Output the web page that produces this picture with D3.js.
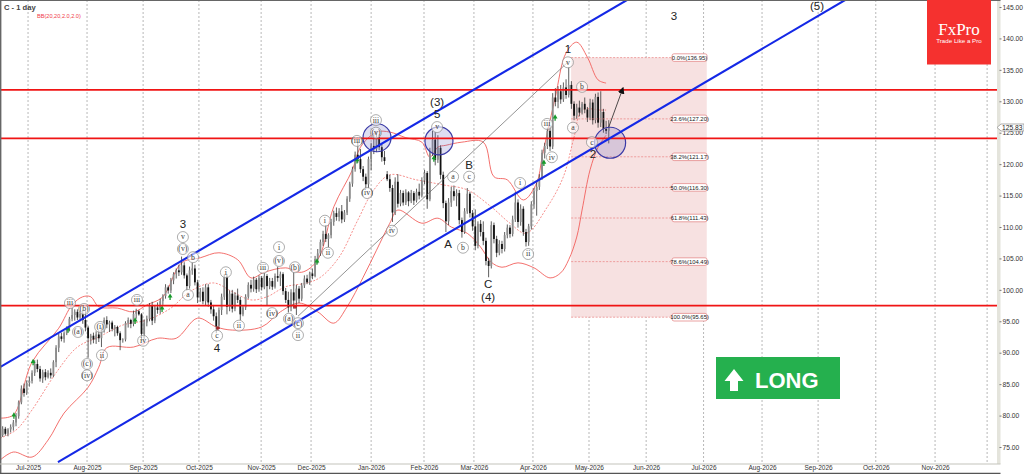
<!DOCTYPE html>
<html>
<head>
<meta charset="utf-8">
<script src="https://cdn.jsdelivr.net/npm/d3@7"></script>
<style>
  body { margin: 0; background: #fff; }
  svg { display: block; }
  text { font-family: "Liberation Sans", sans-serif; }
</style>
</head>
<body>
<div id="drawing_region"></div>
<script>
// daily candles
const opens = [
  76.6,76.9,77.9,77.1,77.8,78.2,78.9,79.9,82.1,84.3,
  83.6,85.2,85.5,86.8,88.2,87.4,85.9,86.9,86.1,86.8,
  86.4,88.5,90.8,92.6,92.2,93.1,93.9,95.4,96.0,96.5,
  95.6,96.2,95.2,94.0,92.3,92.7,92.1,92.9,92.3,93.7,
  95.2,94.5,94.8,93.8,94.1,93.1,92.0,92.1,94.7,95.2,
  94.6,96.2,96.6,96.1,93.0,94.8,95.4,97.5,95.1,97.2,
  96.8,98.2,99.0,100.4,99.9,101.5,102.5,103.1,102.8,103.9,
  102.3,100.6,103.1,103.4,101.2,98.8,99.7,98.2,100.4,98.0,
  96.9,95.8,94.3,96.8,98.9,102.1,97.3,99.4,97.0,99.1,
  98.4,96.1,97.2,98.9,100.8,100.2,101.6,100.1,101.9,100.4,
  102.2,100.6,101.4,100.5,102.2,101.9,102.5,99.8,98.4,97.2,
  99.6,98.3,100.2,98.6,100.7,101.8,101.2,102.6,102.2,104.9,
  105.8,107.6,108.9,108.1,108.7,110.8,112.2,111.6,112.5,111.2,
  112.3,114.5,116.9,119.2,121.5,120.8,119.2,118.0,116.8,120.8,
  122.9,122.4,124.3,122.7,121.1,118.4,117.6,116.2,112.3,117.2,
  113.7,115.4,113.9,115.5,114.1,115.4,114.2,115.6,115.0,117.4,
  118.6,114.4,121.9,123.9,120.7,122.6,118.3,113.8,110.9,113.9,
  115.7,114.9,115.4,111.1,109.2,112.5,115.3,112.2,110.1,107.0,
  110.5,109.2,107.8,104.6,103.8,110.3,108.1,105.9,107.3,106.5,
  108.7,109.9,108.9,111.2,113.9,110.8,112.9,109.2,107.6,110.1,
  113.6,115.7,116.4,117.9,121.8,122.9,125.3,122.8,130.6,129.9,
  131.6,130.3,132.2,131.0,132.6,129.6,127.7,129.0,128.2,129.6,
  128.7,127.4,129.8,127.0,130.7,126.6,128.3,125.6,125.3
];
const highs = [
  77.6,78.3,78.2,78.0,78.6,79.3,80.4,82.4,84.8,85.1,
  85.6,86.2,87.2,88.8,88.9,87.9,87.3,87.4,87.2,87.5,
  88.8,91.2,93.0,93.2,93.4,94.2,95.7,97.2,96.9,96.9,
  96.7,96.8,96.6,94.3,93.0,93.2,93.4,93.5,94.0,95.6,
  95.8,95.1,95.1,94.4,94.3,93.4,92.3,95.0,95.6,95.4,
  96.7,97.0,96.8,96.3,95.3,95.9,97.9,98.1,97.6,98.0,
  98.6,99.3,100.9,100.7,101.9,102.8,103.4,104.0,105.3,104.4,
  102.6,103.7,104.3,104.0,101.6,100.3,100.4,100.9,100.9,98.4,
  97.6,96.4,97.2,99.4,102.5,102.5,99.9,100.0,99.6,100.2,
  98.9,97.6,99.3,101.2,101.6,102.1,101.9,102.3,102.2,102.7,
  102.5,101.9,101.9,102.6,103.7,102.9,102.8,100.3,99.7,100.1,
  102.8,100.8,100.6,101.1,102.3,102.4,102.9,103.4,105.4,106.5,
  108.0,109.4,110.3,109.0,111.3,112.6,113.1,113.0,113.5,112.7,
  114.9,117.2,119.6,122.0,123.6,122.4,119.7,118.5,121.2,123.4,
  124.9,125.1,124.8,123.2,122.1,118.9,118.3,116.7,117.9,118.4,
  115.9,115.8,116.0,115.7,115.9,115.7,116.1,116.9,117.9,119.1,
  118.9,122.6,125.3,125.1,124.6,123.0,118.8,114.2,114.6,116.4,
  116.6,116.0,115.9,111.5,113.0,116.2,115.6,112.7,112.8,110.9,
  111.1,110.9,108.3,105.1,110.9,110.7,108.6,107.9,107.8,109.2,
  110.4,110.3,111.8,115.6,114.4,113.6,113.3,109.7,110.5,114.1,
  116.2,117.1,118.4,122.3,123.4,125.8,126.1,131.3,132.1,132.4,
  132.6,133.0,133.5,135.4,133.2,130.0,129.6,130.1,129.9,130.6,
  129.1,130.4,130.3,131.2,131.4,131.6,128.8,126.9,127.0
];
const lows = [
  76.2,76.6,76.8,76.7,77.3,77.6,78.3,79.5,81.8,83.0,
  83.3,84.6,85.1,86.3,86.9,85.4,85.2,85.6,85.9,85.9,
  86.1,87.7,90.1,91.8,91.6,92.8,93.4,95.0,95.1,95.2,
  95.0,94.6,93.4,89.2,91.3,91.5,91.4,91.7,90.9,93.2,
  93.9,93.3,93.4,92.6,92.7,90.4,91.6,91.8,94.0,93.9,
  94.2,95.4,95.9,91.8,92.2,94.2,95.0,94.4,94.7,96.2,
  96.2,97.6,98.6,99.4,99.5,100.9,101.8,102.2,102.4,101.8,
  99.9,100.2,102.4,100.7,97.9,98.1,97.7,97.5,97.3,96.2,
  95.1,93.1,93.8,96.0,98.4,96.1,96.6,96.4,96.6,97.9,
  95.2,95.8,96.8,98.6,99.6,99.7,99.5,99.7,99.9,100.1,
  97.5,100.1,100.0,100.2,101.3,100.6,99.2,97.9,96.4,96.6,
  97.0,96.0,97.9,98.2,100.3,100.9,100.8,101.7,102.0,104.2,
  105.4,107.0,107.6,106.8,108.2,110.2,111.0,110.9,110.6,110.8,
  111.9,114.0,116.4,118.8,120.2,118.6,117.3,116.1,116.2,119.0,
  121.6,121.9,122.2,120.4,119.9,117.3,115.6,110.8,111.9,113.1,
  113.3,113.4,113.5,113.3,113.8,113.5,113.9,114.4,114.7,116.8,
  112.9,114.1,121.3,119.8,120.2,117.6,113.0,109.2,110.3,113.2,
  114.2,113.3,110.4,108.3,108.9,112.1,111.5,109.4,106.3,106.6,
  108.5,107.1,103.9,102.0,103.4,107.4,105.2,105.5,105.8,106.1,
  108.2,108.3,108.5,110.8,109.9,110.2,108.6,106.9,107.0,109.6,
  112.9,111.8,115.9,117.5,120.9,122.4,122.1,122.4,129.2,128.9,
  129.6,129.9,130.4,130.6,128.8,127.0,127.2,127.6,127.9,128.1,
  126.7,127.0,126.3,126.5,125.8,125.9,125.0,124.8,123.3
];
const closes = [
  76.9,77.9,77.1,77.8,78.2,78.9,79.9,82.1,84.3,83.6,
  85.2,85.5,86.8,88.2,87.4,85.9,86.9,86.1,86.8,86.4,
  88.5,90.8,92.6,92.2,93.1,93.9,95.4,96.0,96.5,95.6,
  96.2,95.2,94.0,92.3,92.7,92.1,92.9,92.3,93.7,95.2,
  94.5,94.8,93.8,94.1,93.1,92.0,92.1,94.7,95.2,94.6,
  96.2,96.6,96.1,93.0,94.8,95.4,97.5,95.1,97.2,96.8,
  98.2,99.0,100.4,99.9,101.5,102.5,103.1,102.8,103.9,102.3,
  100.6,103.1,103.4,101.2,98.8,99.7,98.2,100.4,98.0,96.9,
  95.8,94.2,96.8,98.9,102.1,97.3,99.4,97.0,99.1,98.4,
  96.1,97.2,98.9,100.8,100.2,101.6,100.1,101.9,100.4,102.2,
  100.6,101.4,100.5,102.2,101.9,102.5,99.8,98.4,97.2,99.6,
  98.3,100.2,98.6,100.7,101.8,101.2,102.6,102.2,104.9,105.8,
  107.6,108.9,108.1,108.7,110.8,112.2,111.6,112.5,111.2,112.3,
  114.5,116.9,119.2,121.5,120.8,119.2,118.0,116.8,120.8,122.9,
  122.4,124.3,122.7,121.1,120.5,117.6,116.2,112.3,117.2,113.7,
  115.4,113.9,115.5,114.1,115.4,114.2,115.6,115.0,117.4,118.6,
  114.4,121.9,123.9,120.7,122.6,118.3,113.8,110.9,113.9,115.7,
  114.9,115.4,111.1,109.2,112.5,115.3,112.2,110.1,107.0,110.5,
  109.2,107.8,104.6,103.8,110.3,108.1,105.9,107.3,106.5,108.7,
  109.9,108.9,111.2,113.9,110.8,112.9,109.2,107.6,110.1,113.6,
  115.7,116.4,117.9,121.8,122.9,125.3,122.8,130.6,129.9,131.6,
  130.3,132.2,131.0,132.6,129.6,127.7,129.0,128.2,129.6,128.7,
  127.4,129.8,127.0,130.7,126.6,128.3,125.6,125.3,125.83
];

// bollinger bands, sampled where they bend
const upperBars = [0,5,12,22,27,31,34,37,44,50,55,61,68,75,82,89,94,99,107,113,119,125,132,135,141,146,152,158,161,164,167,173,181,185,190,196,201,203,205,208,212,216,220,224,227];
const upperBand = [79.6,80.1,88.5,93.9,97.6,98.9,98.9,97.3,97.1,96.5,97.6,98.9,104.3,105.1,105.9,104.8,101.9,102.8,103.5,102.8,104.8,113.2,119.1,122.7,125.1,125.1,124.2,123.5,121.1,122.7,123.0,123.5,123.5,118,117.5,114.3,117,121.1,125,130.7,137.7,139.4,137,133.4,132.9];
const middleBars = [0,6,12,21,29,37,46,55,64,71,80,87,94,100,107,115,120,127,134,140,146,156,166,175,184,191,197,205,211,215,218,225,227];
const middleBand = [76.4,77.7,80.9,86.8,90.9,92.5,94.4,95.2,97.1,99.7,101.1,99.7,98.4,98.9,100.5,101.1,102,105.2,111.1,115.9,118.3,117.5,116.7,115.9,113.2,110.6,109,113.2,118,124.3,128.6,128.6,128.6];
const lowerBars = [0,5,12,18,24,33,37,40,50,59,66,74,81,87,98,105,112,119,125,130,136,141,146,149,158,164,169,175,180,184,188,194,200,206,210,213,216,218,221,224,227];
const lowerBand = [72.9,74.2,73.4,76.1,80.4,84.5,87.7,90.8,90.9,92.3,92.3,95.5,94.1,93.6,94.1,96.5,97.9,96.5,94.7,97.3,102,106.3,110.6,112.7,110.6,111.4,110,109,106.8,104.4,103.6,104.3,103.5,101.9,102.7,104.8,108.4,112.7,119.1,122.7,124.6];

// axes
const monthBars = [10.5,32.6,53.6,74.5,97.8,116.5,139,158.8,177.5,199.6,220.6,242,263.5,285.4,306.4,328,350.2,369.7];
const monthLabels = ['Jul-2025','Aug-2025','Sep-2025','Oct-2025','Nov-2025','Dec-2025','Jan-2026','Feb-2026','Mar-2026','Apr-2026','May-2026','Jun-2026','Jul-2026','Aug-2026','Sep-2026','Oct-2026','Nov-2026','Dec-2026'];
const priceTicks = [145,140,135,130,125,120,115,110,105,100,95,90,85,80,75];
const lastPrice = 125.83;

// drawn objects
const levelPrices = [131.8, 124.1, 97.5];
const channelBars = [[0, 234.8], [21.7, 316.5]];
const channelPrices = [[87.7, 146.1], [72.6, 146.1]];
const trendBars = [111.6, 212.7];
const trendPrices = [95.8, 136.25];
const arrowBars = [228, 233.3];
const arrowPrices = [125.9, 132.1];
const zoneBars = [141.2, 164.4, 228.5];
const zonePrices = [124.2, 123.7, 123.4];
const fibBars = [213.9, 264.7];
const fibLabelBar = 251.7;
const fibRatios = ['0.0%','23.6%','38.2%','50.0%','61.8%','78.6%','100.0%'];
const fibPrices = [136.95,127.20,121.17,116.30,111.43,104.49,95.65];

const buyBars = [5.2,12.4,25.5,50.6,60.7,63.7,118.7,133.7,162.5,203.7,207.9];
const buyPrices = [79.9,88.4,93.6,95,96.9,98.8,104.4,120.5,120.8,120.1,127.3];
const stopBars = [81.6,110.5];
const stopPrices = [93.9,97.3];

const circledLabels = [
  ['iii',26.2,97.9],['(b)',31.5,96.96],['(a)',29.2,93.3],['(i)',37.5,94.1],['ii',38.2,89.6],
  ['(c)',32.6,88.2],['(iv)',32.6,86.4],['iii',51.3,98.4],['iv',53.6,91.9],['(v)',68.5,106.5],
  ['v',68.5,108.4],['b',72.3,105.2],['a',70.4,99.2],['c',81.3,92.7],['i',84.6,102.8],
  ['ii',89.5,94.3],['iii',98.5,103.5],['i',104.5,106.8],['(v)',104.5,104.6],['(iv)',101.9,96.3],
  ['(b)',110.5,103.6],['(a)',108.2,95.4],['(c)',111.6,94.7],['ii',111.6,92.8],['ii',122.8,105.9],
  ['i',121.7,111],['(iii)',133.7,123.7],['iii',140.8,127],['(v)',140.8,125],['(iv)',137.5,115.4],
  ['iv',146.8,109.4],['v',163.7,125.9],['a',169.7,118],['c',175.7,118],['b',173.4,106.7],
  ['i',194.8,117],['ii',197.8,105.7],['iii',204.9,126.4],['iv',206.7,121.1],['v',212.7,136.2],
  ['b',218,132.3],['a',214.6,125.8],['c',221.7,123.5]
];
const plainLabels = [
  ['3',68.5,110.5],['4',81.3,90.8],['(3)',163.7,129.9],['5',163.7,128],['A',167.8,107.3],
  ['B',175.7,119.9],['C',182.8,100.9],['(4)',182.8,98.9],['1',212.7,138.3],['2',222.1,121.6],
  ['3',252.4,143.6],['(5)',306,145.15]
];

var config = {
    parent: '#drawing_region',
    width: 1024,
    height: 474,
    plotRight: 997,
    plotBottom: 464
};

const svg = d3.select(config.parent).append('svg')
    .attr('width', config.width)
    .attr('height', config.height);

const xscale = d3.scaleLinear().domain([0, 373.4]).range([0, config.plotRight]);
const yscale = d3.scaleLinear().domain([145, 75]).range([7, 447]);

svg.append('clipPath').attr('id', 'plot_clip').append('rect')
    .attr('x', 0).attr('y', 0)
    .attr('width', config.plotRight).attr('height', config.plotBottom);

// month grid
svg.append('g').selectAll('line').data(monthBars).join('line')
    .attr('x1', d => xscale(d)).attr('x2', d => xscale(d))
    .attr('y1', 0).attr('y2', config.plotBottom)
    .attr('stroke', '#9a9a9a').attr('stroke-width', 0.7).attr('stroke-dasharray', '2,2');

const plot = svg.append('g').attr('clip-path', 'url(#plot_clip)');

// fibonacci box
plot.append('rect')
    .attr('x', xscale(fibBars[0])).attr('width', xscale(fibBars[1]) - xscale(fibBars[0]))
    .attr('y', yscale(fibPrices[0])).attr('height', yscale(fibPrices[6]) - yscale(fibPrices[0]))
    .attr('fill', '#f7e1e1');

// bands
const bandLine = (bars, values) => d3.line()
    .x((d, i) => xscale(bars[i]))
    .y(d => yscale(d))
    .curve(d3.curveCatmullRom)(values);

plot.append('path').attr('d', bandLine(upperBars, upperBand))
    .attr('fill', 'none').attr('stroke', '#f2605c').attr('stroke-width', 0.9);
plot.append('path').attr('d', bandLine(lowerBars, lowerBand))
    .attr('fill', 'none').attr('stroke', '#f2605c').attr('stroke-width', 0.9);
plot.append('path').attr('d', bandLine(middleBars, middleBand))
    .attr('fill', 'none').attr('stroke', '#f2605c').attr('stroke-width', 0.7).attr('stroke-dasharray', '2,1.5');

// candles
const bars = plot.append('g').selectAll('g').data(opens).join('g');
bars.append('line')
    .attr('x1', (d, i) => xscale(i)).attr('x2', (d, i) => xscale(i))
    .attr('y1', (d, i) => yscale(highs[i])).attr('y2', (d, i) => yscale(lows[i]))
    .attr('stroke', '#333').attr('stroke-width', 0.8);
bars.append('rect')
    .attr('x', (d, i) => xscale(i) - 0.9)
    .attr('width', 1.8)
    .attr('y', (d, i) => yscale(Math.max(opens[i], closes[i])))
    .attr('height', (d, i) => Math.max(0.6, Math.abs(yscale(opens[i]) - yscale(closes[i]))))
    .attr('fill', (d, i) => closes[i] >= opens[i] ? '#8c8c8c' : '#111');

// fib levels
plot.append('g').selectAll('line').data(fibPrices).join('line')
    .attr('x1', xscale(fibBars[0])).attr('x2', xscale(fibLabelBar))
    .attr('y1', d => yscale(d)).attr('y2', d => yscale(d))
    .attr('stroke', '#e98080').attr('stroke-width', 0.7).attr('stroke-dasharray', '2,1.5');

// grey trend line
plot.append('line')
    .attr('x1', xscale(trendBars[0])).attr('y1', yscale(trendPrices[0]))
    .attr('x2', xscale(trendBars[1])).attr('y2', yscale(trendPrices[1]))
    .attr('stroke', '#666').attr('stroke-width', 0.7);

// buy and stop marks
const buyShape = d3.symbol().type(d3.symbolTriangle).size(10);
const buys = plot.append('g').selectAll('g').data(buyBars).join('g')
    .attr('transform', (d, i) => `translate(${xscale(d)},${yscale(buyPrices[i])})`);
buys.append('path').attr('d', buyShape).attr('transform', 'translate(0,-1.2)').attr('fill', '#179a2b');
buys.append('line').attr('y1', -1).attr('y2', 2.6).attr('stroke', '#179a2b').attr('stroke-width', 1.3);

plot.append('g').selectAll('path').data(stopBars).join('path')
    .attr('d', d3.symbol().type(d3.symbolCross).size(9))
    .attr('transform', (d, i) => `translate(${xscale(d)},${yscale(stopPrices[i])})`)
    .attr('fill', '#a81a1e');

// zones
plot.append('g').selectAll('circle').data(zoneBars).join('circle')
    .attr('cx', d => xscale(d))
    .attr('cy', (d, i) => yscale(zonePrices[i]))
    .attr('r', (d, i) => i == 2 ? 15.5 : 14)
    .attr('fill', '#6b6bbd').attr('fill-opacity', 0.22)
    .attr('stroke', '#3a3aa6').attr('stroke-width', 1.2);

// horizontal levels and channel
plot.append('g').selectAll('line').data(levelPrices).join('line')
    .attr('x1', 0).attr('x2', config.plotRight)
    .attr('y1', d => yscale(d)).attr('y2', d => yscale(d))
    .attr('stroke', '#f01414').attr('stroke-width', 1.7);

plot.append('g').selectAll('line').data(channelBars).join('line')
    .attr('x1', d => xscale(d[0])).attr('x2', d => xscale(d[1]))
    .attr('y1', (d, i) => yscale(channelPrices[i][0]))
    .attr('y2', (d, i) => yscale(channelPrices[i][1]))
    .attr('stroke', '#1428e6').attr('stroke-width', 2.1);

// target arrow
svg.append('defs').append('marker').attr('id', 'tip')
    .attr('viewBox', '0 0 10 10').attr('refX', 8).attr('refY', 5)
    .attr('markerWidth', 7).attr('markerHeight', 7)
    .attr('markerUnits', 'userSpaceOnUse').attr('orient', 'auto')
    .append('path').attr('d', 'M0,0L10,5L0,10z').attr('fill', '#111');
plot.append('line')
    .attr('x1', xscale(arrowBars[0])).attr('y1', yscale(arrowPrices[0]))
    .attr('x2', xscale(arrowBars[1])).attr('y2', yscale(arrowPrices[1]))
    .attr('stroke', '#222').attr('stroke-width', 0.8)
    .attr('marker-end', 'url(#tip)');

// fib labels
const fibTags = svg.append('g').selectAll('g').data(fibPrices).join('g')
    .attr('transform', d => `translate(${xscale(fibLabelBar)},${yscale(d)})`);
fibTags.append('rect')
    .attr('x', 0).attr('y', -3.8).attr('width', 35).attr('height', 7.6).attr('rx', 2)
    .attr('fill', '#fff').attr('stroke', '#e58a8a').attr('stroke-width', 0.8);
fibTags.append('text')
    .attr('x', 17.5).attr('y', 2.2).attr('text-anchor', 'middle')
    .attr('font-size', 5.9).attr('fill', '#222')
    .text((d, i) => `${fibRatios[i]}(${d.toFixed(2)})`);

// wave labels
const circled = svg.append('g').selectAll('g').data(circledLabels).join('g')
    .attr('transform', d => `translate(${xscale(d[1])},${yscale(d[2])})`);
circled.append('circle').attr('r', 5.5)
    .attr('fill', '#fff').attr('fill-opacity', 0.6)
    .attr('stroke', '#8a8a8a').attr('stroke-width', 0.7);
circled.append('text')
    .attr('y', 2.4).attr('text-anchor', 'middle')
    .style('font-family', '"Liberation Serif", serif')
    .attr('font-size', 7.8).attr('fill', '#3a3a3a')
    .text(d => d[0]);

svg.append('g').selectAll('text').data(plainLabels).join('text')
    .attr('x', d => xscale(d[1])).attr('y', d => yscale(d[2]) + 4)
    .attr('text-anchor', 'middle')
    .attr('font-size', 11.5).attr('fill', '#222')
    .text(d => d[0]);

// axes
const xaxis = d3.axisBottom(xscale)
    .tickValues(monthBars)
    .tickFormat((d, i) => monthLabels[i])
    .tickSize(0).tickPadding(1);
const xaxis_group = svg.append('g')
    .attr('transform', `translate(0,${config.plotBottom})`)
    .call(xaxis);
xaxis_group.select('.domain').remove();
xaxis_group.selectAll('text')
    .attr('font-size', 6.5).attr('fill', '#333')
    .style('font-family', '"Liberation Sans", sans-serif');
// last one has a grid line but no room for a label
xaxis_group.selectAll('.tick').filter((d, i) => i == 17).remove();

svg.append('rect').attr('x', config.plotRight).attr('y', 0)
    .attr('width', 3.5).attr('height', config.plotBottom).attr('fill', '#e4e4dc');

const yaxis = d3.axisRight(yscale)
    .tickValues(priceTicks)
    .tickFormat(d3.format('.2f'))
    .tickSize(2).tickPadding(1);
const yaxis_group = svg.append('g')
    .attr('transform', `translate(${config.plotRight + 2.5},0)`)
    .call(yaxis);
yaxis_group.select('.domain').remove();
yaxis_group.selectAll('line').attr('stroke', '#444').attr('stroke-width', 0.7);
yaxis_group.selectAll('text')
    .attr('font-size', 6.7).attr('fill', '#333')
    .style('font-family', '"Liberation Sans", sans-serif');

// current price tag
const tag = svg.append('g').attr('transform', `translate(${config.plotRight},${yscale(lastPrice)})`);
tag.append('path').attr('d', 'M0,0L4,-3.5H27V3.5H4Z')
    .attr('fill', '#fff').attr('stroke', '#777').attr('stroke-width', 0.6);
tag.append('text').attr('x', 5).attr('y', 2.4)
    .attr('font-size', 6.7).attr('fill', '#222').text(lastPrice.toFixed(2));

// frame
svg.append('line').attr('x1', 0).attr('x2', config.plotRight + 3.5).attr('y1', 0.5).attr('y2', 0.5)
    .attr('stroke', '#666').attr('stroke-width', 1);
svg.append('line').attr('x1', 0.7).attr('x2', 0.7).attr('y1', 0).attr('y2', 473)
    .attr('stroke', '#666').attr('stroke-width', 1.4);
svg.append('line').attr('x1', 0).attr('x2', config.plotRight + 3.5).attr('y1', 464).attr('y2', 464)
    .attr('stroke', '#c4c4bc').attr('stroke-width', 1.2);
svg.append('line').attr('x1', 0).attr('x2', config.plotRight + 3.5).attr('y1', 473.3).attr('y2', 473.3)
    .attr('stroke', '#555').attr('stroke-width', 1.2);

// title
svg.append('text').attr('x', 4).attr('y', 10)
    .attr('font-size', 7.6).attr('font-weight', 'bold').attr('fill', '#444').text('C - 1 day');
svg.append('text').attr('x', 37).attr('y', 18)
    .attr('font-size', 5.6).attr('fill', '#f0404a').text('BB(20,20,2.0,2.0)');

// logo
svg.append('rect').attr('x', 927).attr('y', 0).attr('width', 64).attr('height', 64.5).attr('fill', '#f5312f');
svg.append('text').attr('x', 959).attr('y', 34.5).attr('text-anchor', 'middle')
    .style('font-family', '"Liberation Serif", serif')
    .attr('font-size', 17).attr('fill', '#fff').text('FxPro');
svg.append('text').attr('x', 959).attr('y', 42.6).attr('text-anchor', 'middle')
    .attr('font-size', 6.2).attr('fill', '#fff').text('Trade Like a Pro');

// long badge
svg.append('rect').attr('x', 716).attr('y', 357).attr('width', 124).attr('height', 42).attr('fill', '#25b04e');
svg.append('path').attr('d', 'M734,369L743.5,381H738V391H730V381H724.5Z').attr('fill', '#fff');
svg.append('text').attr('x', 755).attr('y', 388)
    .attr('font-size', 22).attr('font-weight', 'bold').attr('fill', '#fff').text('LONG');
</script>
</body>
</html>
